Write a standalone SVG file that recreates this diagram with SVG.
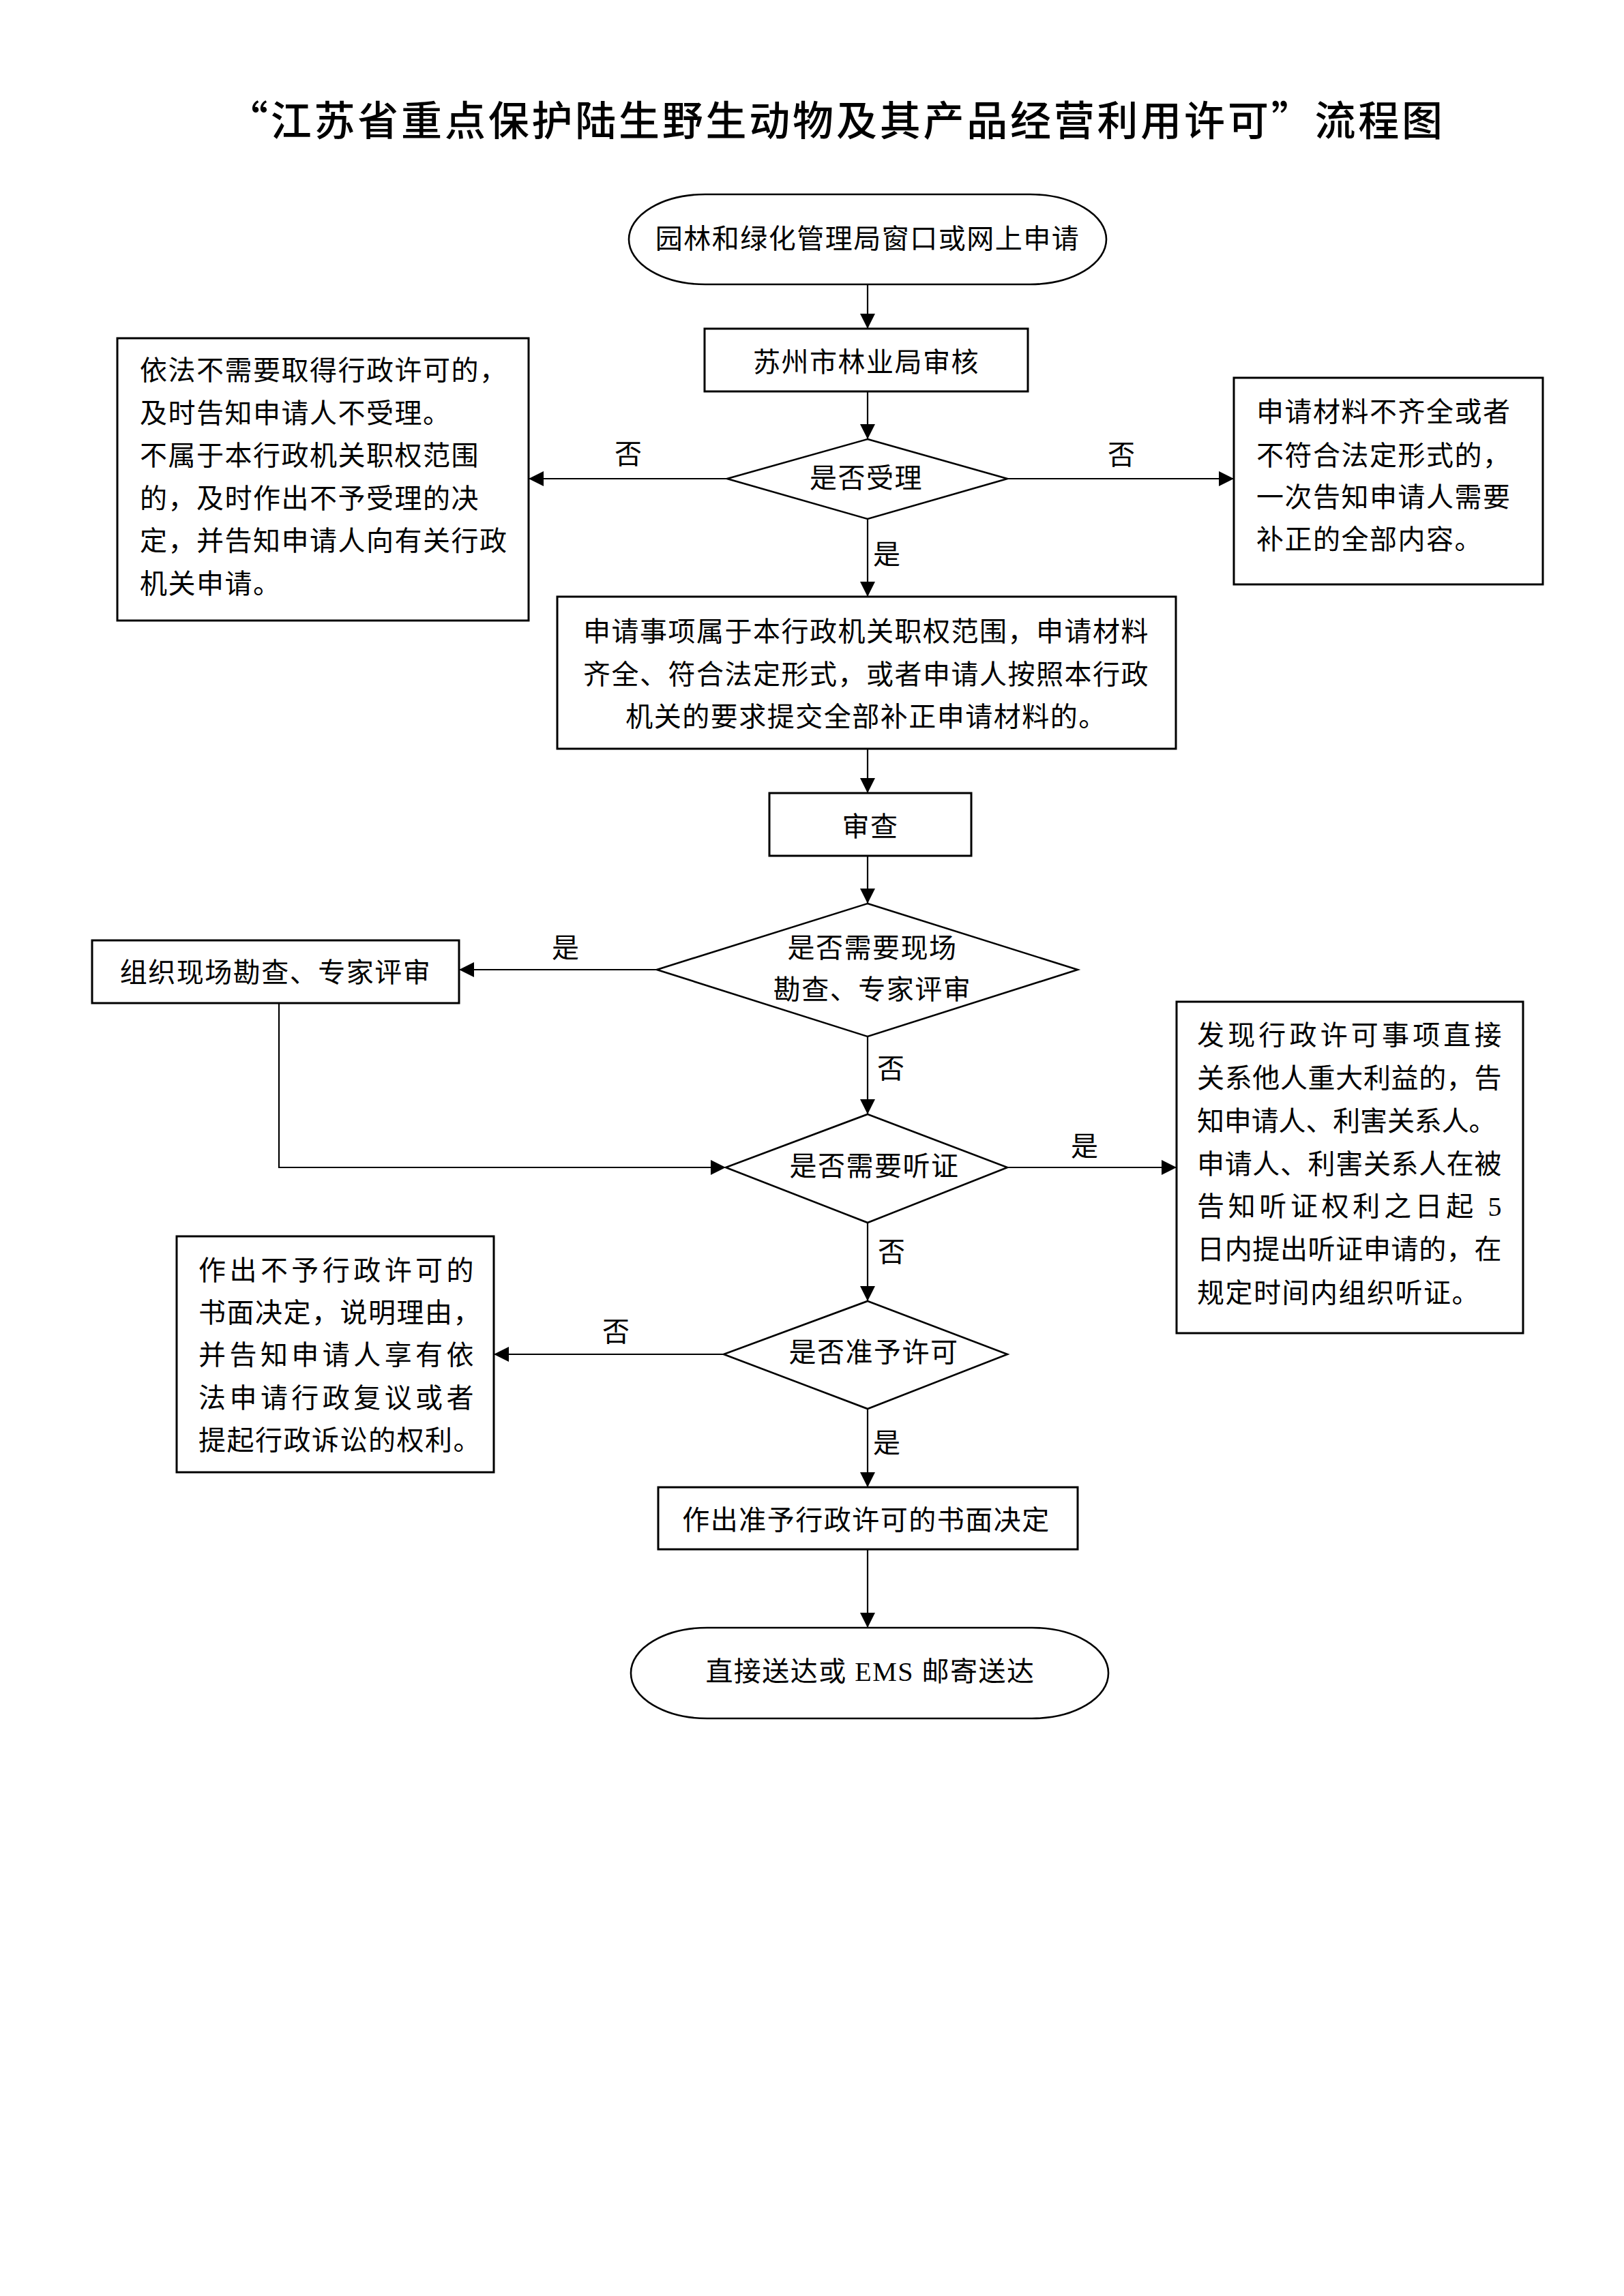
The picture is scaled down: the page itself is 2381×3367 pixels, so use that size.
<svg xmlns="http://www.w3.org/2000/svg" width="2381" height="3367" viewBox="0 0 2381 3367">
<style>
  .bg { fill: #ffffff; }
  .box { fill: #ffffff; stroke: #000; stroke-width: 3; }
  .oval { fill: #ffffff; stroke: #000; stroke-width: 2.6; }
  .dia { fill: #ffffff; stroke: #000; stroke-width: 2.6; stroke-linejoin: miter; }
  .con { fill: none; stroke: #000; stroke-width: 2.2; }
  text { font-family: "Liberation Serif", "Noto Sans CJK SC", sans-serif; font-size: 40px; fill: #000; letter-spacing: 1.5px; }
  .mid { text-anchor: middle; }
  .title { font-family: "Noto Sans CJK SC", sans-serif; font-size: 60px; font-weight: 500; letter-spacing: 0; }
  .lbl { letter-spacing: 0; }
</style>
<defs>
  <marker id="arr" markerUnits="userSpaceOnUse" markerWidth="24" markerHeight="24" refX="22" refY="11" orient="auto">
    <path d="M0,0 L22,11 L0,22 z" fill="#000"/>
  </marker>
</defs>
<rect class="bg" x="0" y="0" width="2381" height="3367"/>

<text class="title" x="333" y="199" textLength="1782" lengthAdjust="spacing">“江苏省重点保护陆生野生动物及其产品经营利用许可”流程图</text>

<g id="connectors">
  <line class="con" x1="1272" y1="417" x2="1272" y2="482" marker-end="url(#arr)"/>
  <line class="con" x1="1272" y1="574" x2="1272" y2="644" marker-end="url(#arr)"/>
  <line class="con" x1="1066" y1="702" x2="775" y2="702" marker-end="url(#arr)"/>
  <line class="con" x1="1477" y1="702" x2="1809" y2="702" marker-end="url(#arr)"/>
  <line class="con" x1="1272" y1="761" x2="1272" y2="875" marker-end="url(#arr)"/>
  <line class="con" x1="1272" y1="1098" x2="1272" y2="1163" marker-end="url(#arr)"/>
  <line class="con" x1="1272" y1="1255" x2="1272" y2="1325" marker-end="url(#arr)"/>
  <line class="con" x1="963" y1="1422" x2="673" y2="1422" marker-end="url(#arr)"/>
  <line class="con" x1="1272" y1="1520" x2="1272" y2="1634" marker-end="url(#arr)"/>
  <polyline class="con" points="409,1471 409,1712 1064,1712" marker-end="url(#arr)"/>
  <line class="con" x1="1477" y1="1712" x2="1725" y2="1712" marker-end="url(#arr)"/>
  <line class="con" x1="1272" y1="1793" x2="1272" y2="1908" marker-end="url(#arr)"/>
  <line class="con" x1="1061" y1="1986" x2="724" y2="1986" marker-end="url(#arr)"/>
  <line class="con" x1="1272" y1="2066" x2="1272" y2="2181" marker-end="url(#arr)"/>
  <line class="con" x1="1272" y1="2272" x2="1272" y2="2387" marker-end="url(#arr)"/>
  <text class="mid lbl" x="921" y="680">否</text>
  <text class="mid lbl" x="1644" y="681">否</text>
  <text class="mid lbl" x="1300" y="827">是</text>
  <text class="mid lbl" x="829" y="1404">是</text>
  <text class="mid lbl" x="1306" y="1581">否</text>
  <text class="mid lbl" x="1590" y="1695">是</text>
  <text class="mid lbl" x="1307" y="1850">否</text>
  <text class="mid lbl" x="903" y="1967">否</text>
  <text class="mid lbl" x="1300" y="2130">是</text>
</g>

<g id="start">
  <rect class="oval" x="922" y="285" width="700" height="132" rx="112" ry="66"/>
  <text class="mid" x="1272" y="364">园林和绿化管理局窗口或网上申请</text>
</g>

<g id="suzhou">
  <rect class="box" x="1033" y="482" width="474" height="92"/>
  <text class="mid" x="1270" y="545">苏州市林业局审核</text>
</g>

<g id="accept">
  <polygon class="dia" points="1272,644 1477,702 1272,761 1066,702"/>
  <text class="mid" x="1270" y="715">是否受理</text>
</g>

<g id="reject1">
  <rect class="box" x="172" y="496" width="603" height="414"/>
  <text x="205" y="557">依法不需要取得行政许可的，</text>
  <text x="205" y="620">及时告知申请人不受理。</text>
  <text x="205" y="682">不属于本行政机关职权范围</text>
  <text x="205" y="745">的，及时作出不予受理的决</text>
  <text x="205" y="807">定，并告知申请人向有关行政</text>
  <text x="205" y="870">机关申请。</text>
</g>

<g id="supplement">
  <rect class="box" x="1809" y="554" width="453" height="303"/>
  <text x="1842" y="618">申请材料不齐全或者</text>
  <text x="1842" y="682">不符合法定形式的，</text>
  <text x="1842" y="743">一次告知申请人需要</text>
  <text x="1842" y="805">补正的全部内容。</text>
</g>

<g id="accepted">
  <rect class="box" x="817" y="875" width="907" height="223"/>
  <text class="mid" x="1270" y="940">申请事项属于本行政机关职权范围，申请材料</text>
  <text class="mid" x="1270" y="1003">齐全、符合法定形式，或者申请人按照本行政</text>
  <text class="mid" x="1270" y="1065">机关的要求提交全部补正申请材料的。</text>
</g>

<g id="review">
  <rect class="box" x="1128" y="1163" width="296" height="92"/>
  <text class="mid" x="1276" y="1226">审查</text>
</g>

<g id="need-survey">
  <polygon class="dia" points="1272,1325 1580,1422 1272,1520 963,1422"/>
  <text class="mid" x="1279" y="1404">是否需要现场</text>
  <text class="mid" x="1279" y="1465">勘查、专家评审</text>
</g>

<g id="survey">
  <rect class="box" x="135" y="1379" width="538" height="92"/>
  <text class="mid" x="404" y="1440">组织现场勘查、专家评审</text>
</g>

<g id="need-hearing">
  <polygon class="dia" points="1272,1634 1477,1712 1272,1793 1064,1712"/>
  <text class="mid" x="1282" y="1724">是否需要听证</text>
</g>

<g id="hearing">
  <rect class="box" x="1725" y="1469" width="508" height="486"/>
  <text x="1755" y="1532" textLength="448" lengthAdjust="spacing">发现行政许可事项直接</text>
  <text x="1755" y="1595" textLength="448" lengthAdjust="spacing">关系他人重大利益的，告</text>
  <text x="1755" y="1658" textLength="440" lengthAdjust="spacing">知申请人、利害关系人。</text>
  <text x="1755" y="1721" textLength="448" lengthAdjust="spacing">申请人、利害关系人在被</text>
  <text x="1755" y="1783" textLength="448" lengthAdjust="spacing">告知听证权利之日起 5</text>
  <text x="1755" y="1846" textLength="448" lengthAdjust="spacing">日内提出听证申请的，在</text>
  <text x="1755" y="1910">规定时间内组织听证。</text>
</g>

<g id="grant">
  <polygon class="dia" points="1272,1908 1477,1986 1272,2066 1061,1986"/>
  <text class="mid" x="1281" y="1997">是否准予许可</text>
</g>

<g id="deny">
  <rect class="box" x="259" y="1813" width="465" height="346"/>
  <text x="291" y="1877" textLength="405" lengthAdjust="spacing">作出不予行政许可的</text>
  <text x="291" y="1939" textLength="415" lengthAdjust="spacing">书面决定，说明理由，</text>
  <text x="291" y="2001" textLength="405" lengthAdjust="spacing">并告知申请人享有依</text>
  <text x="291" y="2064" textLength="405" lengthAdjust="spacing">法申请行政复议或者</text>
  <text x="291" y="2126">提起行政诉讼的权利。</text>
</g>

<g id="approve">
  <rect class="box" x="965" y="2181" width="615" height="91"/>
  <text class="mid" x="1270" y="2243">作出准予行政许可的书面决定</text>
</g>

<g id="end">
  <rect class="oval" x="925" y="2387" width="700" height="133" rx="112" ry="66"/>
  <text class="mid" x="1276" y="2465">直接送达或 EMS 邮寄送达</text>
</g>
</svg>
